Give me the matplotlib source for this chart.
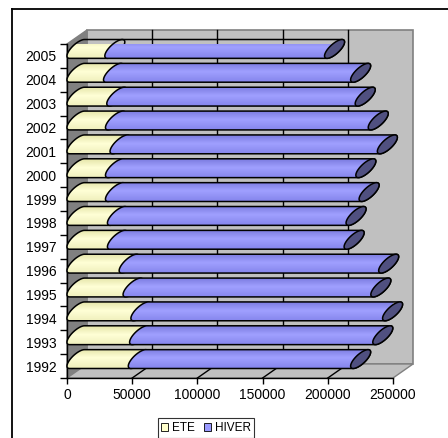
import numpy as np
import matplotlib
matplotlib.use("Agg")
import matplotlib.pyplot as plt
from matplotlib.patches import Polygon, Patch, Rectangle
from matplotlib.lines import Line2D
from matplotlib.colors import LinearSegmentedColormap

plt.rcParams['font.family'] = ['Liberation Sans', 'DejaVu Sans']

# Data
years = ['1992', '1993', '1994', '1995', '1996', '1997', '1998',
         '1999', '2000', '2001', '2002', '2003', '2004', '2005']
ete = [47000, 48000, 49000, 43000, 40000, 31000, 31000,
       29500, 29500, 33000, 29500, 30500, 28000, 29000]
hiver = [170500, 186500, 193000, 190000, 199000, 181500, 183000,
         194500, 192000, 205000, 201500, 190500, 189500, 168500]
series_names = ['ETE', 'HIVER']
xticks = [0, 50000, 100000, 150000, 200000, 250000]

W, H, DPI = 448, 438, 100
fig = plt.figure(figsize=(W / DPI, H / DPI), dpi=DPI)
fig.patch.set_facecolor('white')

# front plane of the 3-D box (pixels)
x0_px, x1_px = 67, 393
ytop_px, ybot_px = 44, 378
ax = fig.add_axes([x0_px / W, (H - ybot_px) / H,
                   (x1_px - x0_px) / W, (ybot_px - ytop_px) / H])
xmax = 250000
n = len(years)
ax.set_xlim(0, xmax)
ax.set_ylim(-0.5, n - 0.5)
ax.patch.set_visible(False)

sx = (x1_px - x0_px) / xmax          # px per value unit
sy = (ybot_px - ytop_px) / n         # px per category
depth_px = (20.0, 14.0)              # oblique depth vector
dx, dy = depth_px[0] / sx, depth_px[1] / sy

# walls and floor
back = Rectangle((dx, -0.5 + dy), xmax, n, facecolor='#c0c0c0',
                 edgecolor='#808080', lw=1.2, zorder=0.5, clip_on=False)
ax.add_patch(back)
left = Polygon([(0, -0.5), (0, n - 0.5), (dx, n - 0.5 + dy), (dx, -0.5 + dy)],
               closed=True, facecolor='#808080', edgecolor='#808080',
               lw=1, zorder=1, clip_on=False)
ax.add_patch(left)
floor = Polygon([(0, -0.5), (xmax, -0.5), (xmax + dx, -0.5 + dy), (dx, -0.5 + dy)],
                closed=True, facecolor='#c0c0c0', edgecolor='#808080',
                lw=1, zorder=1, clip_on=False)
ax.add_patch(floor)
for xv in xticks[1:-1]:
    ax.plot([xv + dx, xv + dx], [-0.5 + dy, n - 0.5 + dy], color='black',
            lw=1, zorder=0.8, clip_on=False)
    ax.plot([xv, xv + dx], [-0.5, -0.5 + dy], color='black',
            lw=1, zorder=1.5, clip_on=False)

# cylinder geometry (pixels -> data units)
ux, uy = depth_px[0] / 2, depth_px[1] / 2
hv = 6.3
t0 = np.arctan2(hv, uy)


def ellipse_pts(cx, cy, ts):
    px = ux * np.cos(ts)
    py = uy * np.cos(ts) + hv * np.sin(ts)
    return np.column_stack([cx + px / sx, cy + py / sy])


def centre(val, i):
    return val + ux / sx, i + uy / sy


def gradient_cmap(c_edge, c_mid, c_low):
    return LinearSegmentedColormap.from_list(
        'g', [(0.0, c_edge), (0.45, c_mid), (1.0, c_low)])


cmaps = {
    'ETE': gradient_cmap('#e6e6aa', '#ffffd6', '#efefbc'),
    'HIVER': gradient_cmap('#7c7ce0', '#a0a0ff', '#8585ec'),
}
grad = np.linspace(0, 1, 64).reshape(-1, 1)

for i in range(n):
    starts = [0, ete[i]]
    ends = [ete[i], ete[i] + hiver[i]]
    for j, (name, s, e) in enumerate(zip(series_names, starts, ends)):
        z = 5 + 0.2 * j
        cs = centre(s, i)
        ce = centre(e, i)
        left_arc = ellipse_pts(*cs, np.linspace(t0, t0 + np.pi, 40))
        right_arc = ellipse_pts(*ce, np.linspace(t0 + np.pi, t0 + 2 * np.pi, 40))
        pts = np.vstack([left_arc, right_arc])
        clip = Polygon(pts, closed=True, transform=ax.transData)
        im = ax.imshow(grad, cmap=cmaps[name], aspect='auto',
                       extent=(pts[:, 0].min(), pts[:, 0].max(),
                               pts[:, 1].min(), pts[:, 1].max()),
                       origin='upper', interpolation='bilinear', zorder=z)
        im.set_clip_path(clip)
        ax.add_patch(Polygon(pts, closed=True, facecolor='none', edgecolor='black',
                             lw=1.1, zorder=z + 0.05, clip_on=False))
    # visible end cap
    cap = ellipse_pts(*centre(ete[i] + hiver[i], i), np.linspace(0, 2 * np.pi, 80))
    ax.add_patch(Polygon(cap, closed=True, facecolor='#505080',
                         edgecolor='black', lw=1.1, zorder=5.5, clip_on=False))

ax.set_xlim(0, xmax)
ax.set_ylim(-0.5, n - 0.5)

# axes, ticks and labels
for side in ['top', 'right']:
    ax.spines[side].set_visible(False)
for side in ['left', 'bottom']:
    ax.spines[side].set_color('black')
    ax.spines[side].set_linewidth(1)
    ax.spines[side].set_zorder(2)
ax.set_xticks(xticks)
ax.set_xticklabels([str(v) for v in xticks], fontsize=10)
ax.tick_params(axis='x', direction='out', length=4, width=1, pad=3.5)
ax.set_yticks(range(n))
ax.set_yticklabels(years, fontsize=10)
ax.set_yticks(np.arange(-0.5, n, 1.0), minor=True)
ax.tick_params(axis='y', which='major', length=0, pad=7.5)
ax.tick_params(axis='y', which='minor', direction='out', length=5, width=1)

# legend
handles = [Patch(facecolor='#ffffcc', edgecolor='black', lw=0.6, label='ETE'),
           Patch(facecolor='#9999ff', edgecolor='black', lw=0.6, label='HIVER')]
leg = fig.legend(handles=handles, loc='center', bbox_to_anchor=(206 / W, (H - 428) / H),
                 ncol=2, fontsize=8.5, frameon=True, fancybox=False,
                 handlelength=0.6, handleheight=0.6, handletextpad=0.3,
                 columnspacing=0.8, borderpad=0.3, borderaxespad=0)
leg.get_frame().set_edgecolor('black')
leg.get_frame().set_linewidth(0.8)

# chart-area border
fig.add_artist(Line2D([12 / W, 12 / W], [0, (H - 9) / H], color='black', lw=1.3,
                      transform=fig.transFigure))
fig.add_artist(Line2D([12 / W, 1], [(H - 9) / H, (H - 9) / H], color='black', lw=1.3,
                      transform=fig.transFigure))

fig.savefig('out.png', dpi=DPI)
